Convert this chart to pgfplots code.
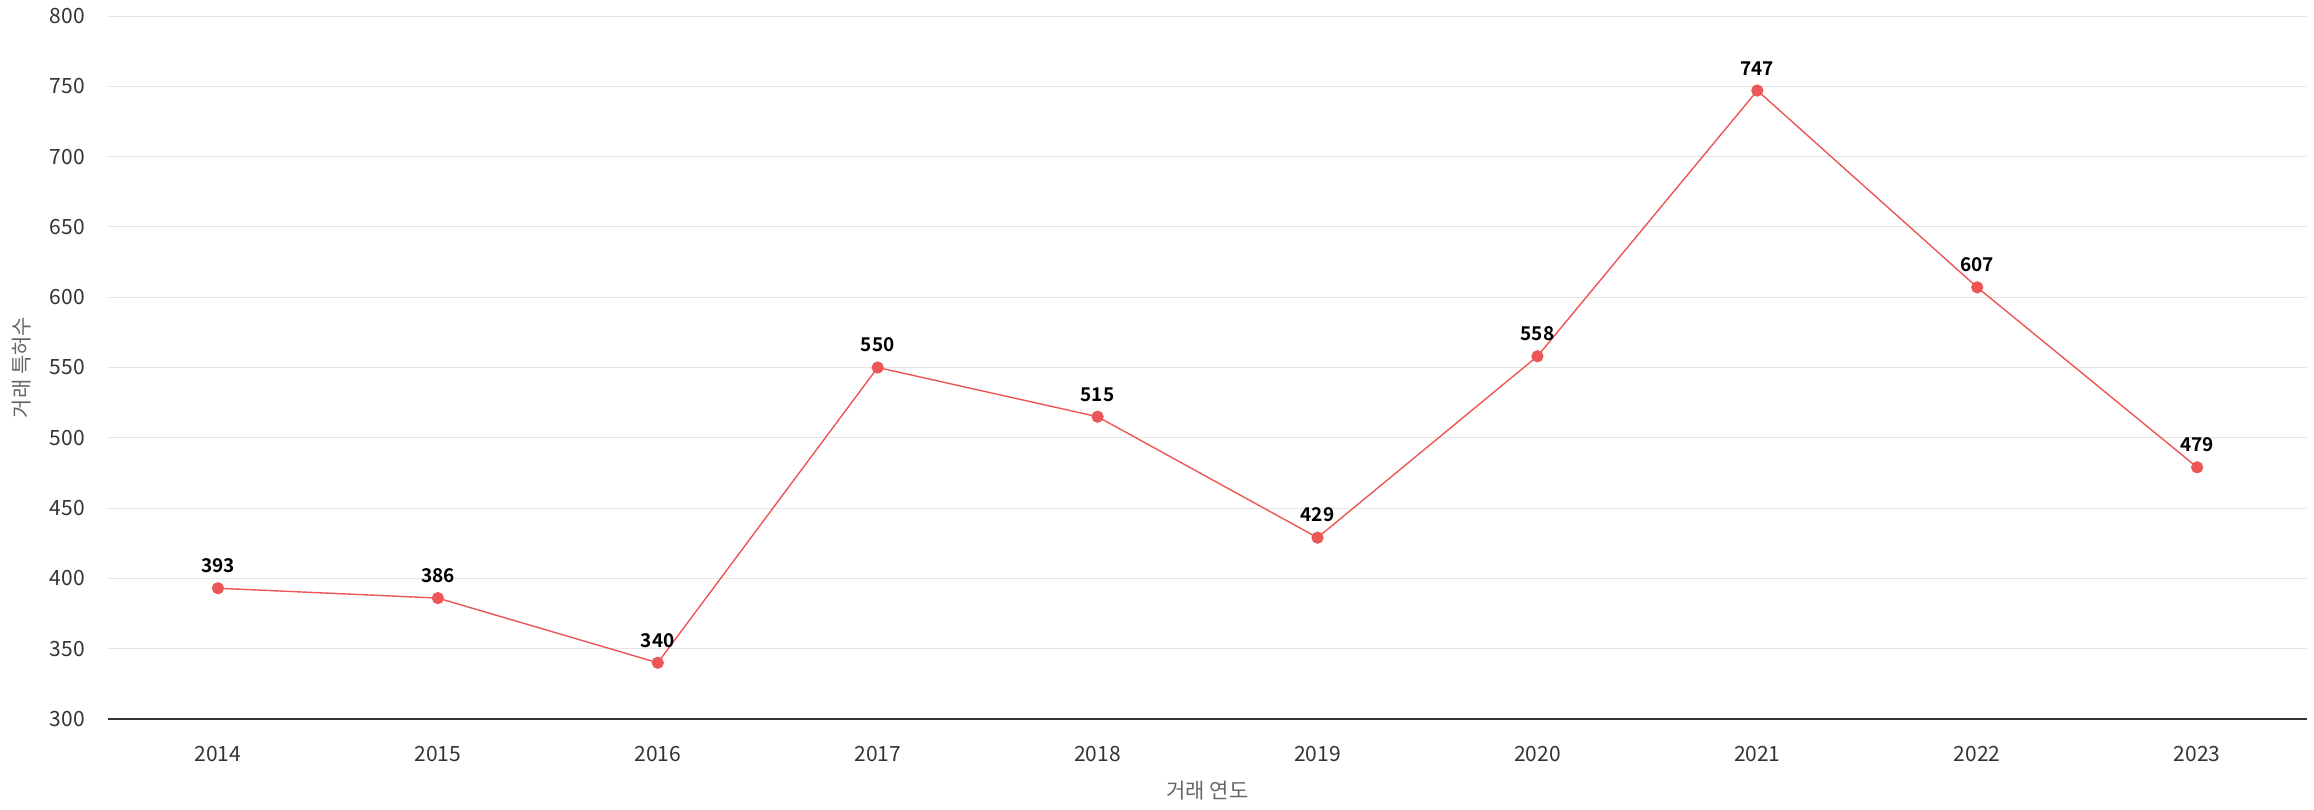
\documentclass[border=0pt]{standalone}
\usepackage{pgfplots}
\pgfplotsset{compat=1.18}
\usepackage{fontspec}
\setmainfont{Noto Sans CJK KR}
\newfontfamily\boldkr{Noto Sans CJK KR Bold}
\definecolor{linered}{RGB}{236,86,86}
\definecolor{gridc}{RGB}{228,228,228}
\definecolor{tickc}{RGB}{51,51,51}
\definecolor{labc}{RGB}{102,102,102}
\begin{document}
\begin{tikzpicture}
\begin{axis}[
  name=ax,
  at={(0,0)}, anchor=south west,
  scale only axis,
  width=1099.5pt, height=351.5pt,
  xmin=-0.5, xmax=9.5,
  ymin=300, ymax=800,
  ytick={300,350,...,800},
  xtick={0,...,9},
  xticklabels={2014,2015,2016,2017,2018,2019,2020,2021,2022,2023},
  /pgf/number format/assume math mode=true,
  /pgf/number format/1000 sep={},
  ymajorgrids,
  grid style={gridc, line width=0.5pt},
  axis x line*=bottom,
  axis y line*=left,
  y axis line style={draw=none},
  x axis line style={tickc, line width=0.9pt, -},
  major tick length=0pt,
  tick style={draw=none},
  ticklabel style={font=\fontsize{10.5pt}{12pt}\selectfont, text=tickc},
  yticklabel style={anchor=east, xshift=-8pt},
  xticklabel style={yshift=-10pt},
  xlabel={거래 연도},
  xlabel style={font=\fontsize{10.5pt}{12pt}\selectfont, text=labc, yshift=-3pt},
  clip=false,
]
\addplot[color=linered, line width=0.7pt, mark=*, mark size=2.7pt,
  mark options={fill=linered, draw=linered},
  nodes near coords,
  every node near coord/.append style={font=\boldkr\fontsize{9.5pt}{10pt}\selectfont, text=black, anchor=south, yshift=4pt}]
  coordinates {(0,393) (1,386) (2,340) (3,550) (4,515) (5,429) (6,558) (7,747) (8,607) (9,479)};
\end{axis}
\node[rotate=90, font=\fontsize{10.5pt}{12pt}\selectfont, text=labc] at (-43pt,175.75pt) {거래 특허수};
\path (-54pt,-45pt) rectangle (1103pt,359.5pt);
\end{tikzpicture}
\end{document}
